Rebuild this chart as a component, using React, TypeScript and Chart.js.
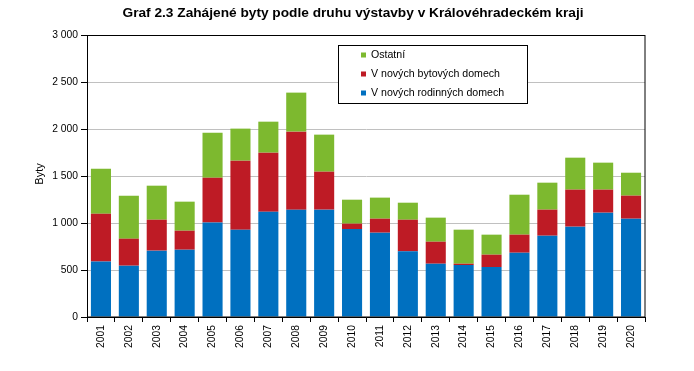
import React, { useEffect, useRef } from "react";
import { Chart, registerables } from "chart.js";

Chart.register(...registerables);

const title = "Graf 2.3 Zahájené byty podle druhu výstavby v Královéhradeckém kraji";
const yTitle = "Byty";
const years = ["2001","2002","2003","2004","2005","2006","2007","2008","2009","2010","2011","2012","2013","2014","2015","2016","2017","2018","2019","2020"];
const rodinne = [590,546,706,716,1004,929,1121,1142,1142,936,897,699,567,553,532,684,865,961,1110,1046];
const bytove = [509,287,329,202,478,734,627,830,404,57,149,336,234,14,131,192,277,394,245,245];
const ostatni = [479,458,362,309,479,341,330,415,394,255,224,181,256,362,213,425,287,340,287,244];
const seriesLabels = ["V nových rodinných domech", "V nových bytových domech", "Ostatní"];
const colors = ["#0070C0", "#BE1B25", "#7DB92F"];

const FONT = "'Liberation Sans', Arial, sans-serif";

const decor = {
  id: "decor",
  afterDraw(chart: any) {
    const { ctx, chartArea: a } = chart;
    ctx.save();
    // plot border
    ctx.strokeStyle = "#000";
    ctx.lineWidth = 1;
    ctx.strokeRect(Math.round(a.left) + 0.5, Math.round(a.top) + 0.5, Math.round(a.right - a.left) - 1 + 0.5, Math.round(a.bottom - a.top) - 0.5);
    // title
    ctx.fillStyle = "#000";
    ctx.font = `bold 13.7px ${FONT}`;
    ctx.textAlign = "center";
    ctx.textBaseline = "middle";
    ctx.fillText(title, 353, 13);
    // y axis title
    ctx.save();
    ctx.translate(40, 174);
    ctx.rotate(-Math.PI / 2);
    ctx.font = `11px ${FONT}`;
    ctx.fillText(yTitle, 0, 0);
    ctx.restore();
    // legend
    const lx = a.left + 251, ly = a.top + 10, lw = 189, lh = 58;
    ctx.fillStyle = "#fff";
    ctx.fillRect(lx, ly, lw, lh);
    ctx.strokeRect(lx + 0.5, ly + 0.5, lw, lh);
    const ds = chart.data.datasets;
    ctx.font = `10.6px ${FONT}`;
    ctx.textAlign = "left";
    for (let i = 0; i < ds.length; i++) {
      const d = ds[ds.length - 1 - i];
      const cy = ly + 10 + i * 19;
      ctx.fillStyle = d.backgroundColor;
      ctx.fillRect(lx + 23, cy - 2.5, 5, 5);
      ctx.fillStyle = "#000";
      ctx.fillText(d.label, lx + 33, cy);
    }
    ctx.restore();
  },
};

export default function App() {
  const ref = useRef<HTMLCanvasElement>(null);
  useEffect(() => {
    document.body.style.margin = "0";
    const data = [rodinne, bytove, ostatni];
    const chart = new Chart(ref.current!, {
      type: "bar",
      data: {
        labels: years,
        datasets: data.map((v, i) => ({
          label: seriesLabels[i],
          data: v,
          backgroundColor: colors[i],
          borderWidth: 0,
          barPercentage: 0.72,
          categoryPercentage: 1,
        })),
      },
      options: {
        animation: false,
        responsive: false,
        layout: { padding: { top: 35, right: 49, left: 0, bottom: 0 } },
        plugins: { legend: { display: false }, title: { display: false }, tooltip: { enabled: false } },
        scales: {
          x: {
            stacked: true,
            afterFit(s: any) { s.height = 54; },
            grid: { display: true, offset: true, drawOnChartArea: false, tickLength: 5, color: "#000" },
            border: { color: "#000" },
            ticks: { minRotation: 90, maxRotation: 90, autoSkip: false, padding: 3, color: "#000", font: { size: 10.3, family: FONT } },
          },
          y: {
            stacked: true,
            min: 0,
            max: 3000,
            afterFit(s: any) { s.width = 87; },
            grid: { color: "#C0C0C0", tickColor: "#000", tickLength: 6 },
            border: { color: "#000" },
            ticks: {
              stepSize: 500,
              padding: 3,
              color: "#000",
              font: { size: 10.3, family: FONT },
              callback: (v: any) => String(v).replace(/\B(?=(\d{3})+(?!\d))/g, " "),
            },
          },
        },
      },
      plugins: [decor],
    });
    return () => chart.destroy();
  }, []);
  return <canvas ref={ref} width={694} height={371} style={{ display: "block" }} />;
}
